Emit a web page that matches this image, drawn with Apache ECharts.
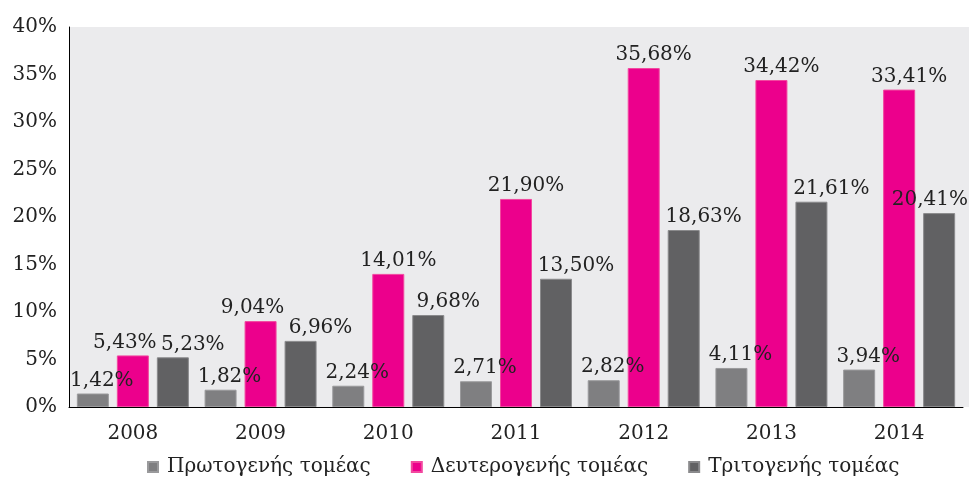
<!DOCTYPE html>
<html>
<head>
<meta charset="utf-8">
<script src="https://cdn.jsdelivr.net/npm/echarts@6/dist/echarts.min.js"></script>
<style>html,body{margin:0;padding:0;background:#fff;}#c{width:969px;height:478px;}</style>
</head>
<body>
<div id="c"></div>
<script>
const years = ['2008','2009','2010','2011','2012','2013','2014'];
const primary = [1.42, 1.82, 2.24, 2.71, 2.82, 4.11, 3.94];
const secondary = [5.43, 9.04, 14.01, 21.90, 35.68, 34.42, 33.41];
const tertiary = [5.23, 6.96, 9.68, 13.50, 18.63, 21.61, 20.41];
const seriesNames = ['Πρωτογενής τομέας', 'Δευτερογενής τομέας', 'Τριτογενής τομέας'];
const yTicks = [0, 5, 10, 15, 20, 25, 30, 35, 40];

const FONT = 'DejaVu Serif';
const TXT = '#222222';
const fmt = p => p.value.toFixed(2).replace('.', ',') + '%';

function bar(name, data, color, border, dx, dxShort) {
  return {
    name, type: 'bar', barWidth: 32, barGap: '25%',
    data: data,
    itemStyle: { color, borderColor: border, borderWidth: 1 },
    label: { show: true, position: 'top', distance: 3, formatter: fmt,
      fontFamily: FONT, fontSize: 20, color: TXT },
    labelLayout: function (p) {
      const r = p.labelRect;
      let d = data[p.dataIndex] < 10 ? dxShort : dx;
      if (r.x + d + r.width > 968) d = 968 - (r.x + r.width);
      return { dx: d };
    }
  };
}

const chart = echarts.init(document.getElementById('c'));
chart.setOption({
  animation: false,
  backgroundColor: '#fff',
  graphic: [{ type: 'rect', left: 963, top: 27, shape: { width: 6, height: 380 }, style: { fill: '#ebebed' }, silent: true, z: -1 }],
  grid: { left: 69, top: 27, right: 6, bottom: 71, show: true, backgroundColor: '#ebebed', borderWidth: 0 },
  legend: {
    top: 452, left: 142, icon: 'rect', itemWidth: 10, itemHeight: 10, itemGap: 40,
    textStyle: { fontFamily: FONT, fontSize: 20, color: TXT, padding: [0, 0, 0, 4] },
    data: seriesNames
  },
  xAxis: {
    type: 'category', data: years,
    axisLine: { lineStyle: { color: '#000', width: 1 } },
    axisTick: { show: false },
    axisLabel: { fontFamily: FONT, fontSize: 20, color: TXT, margin: 17 }
  },
  yAxis: {
    type: 'value', min: yTicks[0], max: yTicks[yTicks.length - 1], interval: yTicks[1] - yTicks[0],
    axisLine: { show: true, lineStyle: { color: '#000', width: 1 } },
    axisTick: { show: false },
    splitLine: { show: false },
    axisLabel: { fontFamily: FONT, fontSize: 20, color: TXT, margin: 12, formatter: '{value}%' }
  },
  series: [
    bar(seriesNames[0], primary, '#7f7f81', '#9a9a9c', 9, 9),
    bar(seriesNames[1], secondary, '#ec008c', '#f2489f', 10, -8),
    bar(seriesNames[2], tertiary, '#616163', '#8a8a8c', 20, 20)
  ]
});
</script>
</body>
</html>
